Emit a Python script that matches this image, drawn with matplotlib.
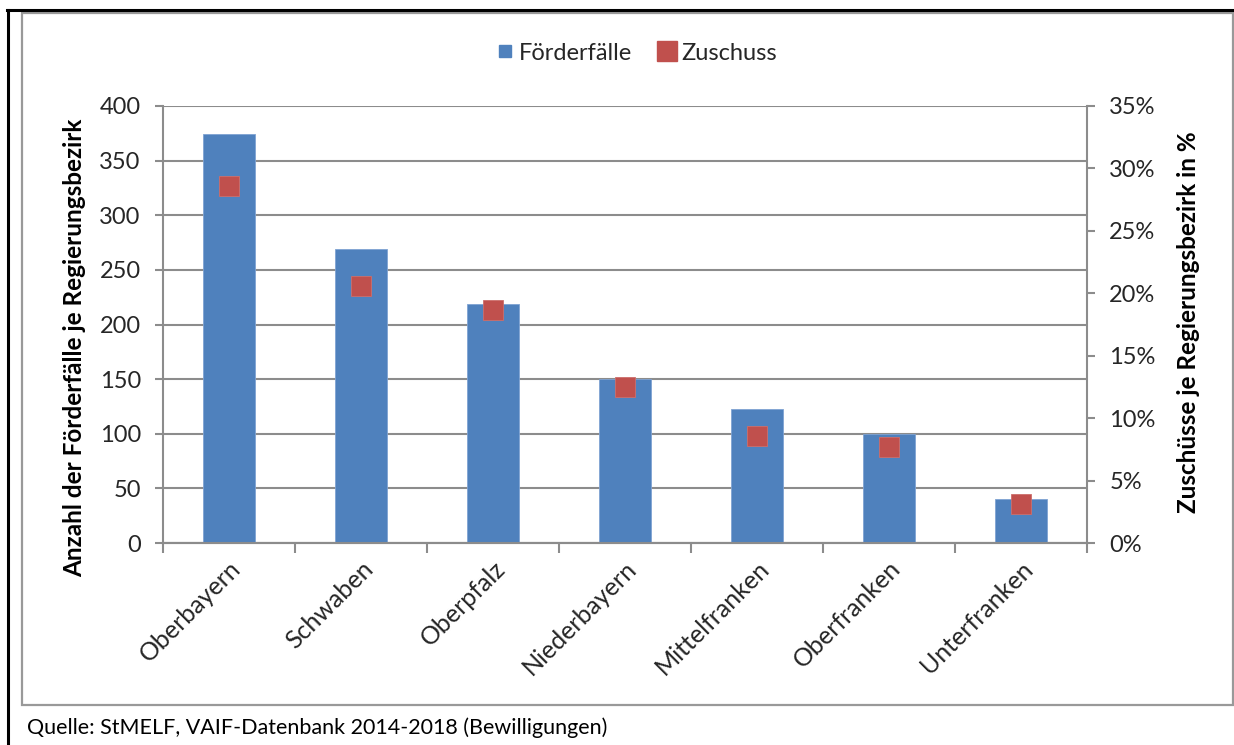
import matplotlib.pyplot as plt
from matplotlib.lines import Line2D
from matplotlib.patches import Rectangle
from matplotlib.ticker import FuncFormatter, MultipleLocator
import numpy as np

plt.rcParams['font.family'] = ['Lato', 'DejaVu Sans']

# Data
bezirke = ['Oberbayern', 'Schwaben', 'Oberpfalz', 'Niederbayern',
           'Mittelfranken', 'Oberfranken', 'Unterfranken']
foerderfaelle = [374, 269, 219, 150, 123, 100, 40]
zuschuss_pct = [28.6, 20.6, 18.7, 12.5, 8.6, 7.7, 3.1]

blue = '#4F81BD'
red = '#C0504D'
grid_gray = '#8C8C8C'
txt = '#262626'

fig = plt.figure(figsize=(12.34, 7.45), dpi=100)
ax = fig.add_axes([163 / 1234, 1 - 543 / 745, 924 / 1234, 437 / 745])

x = np.arange(len(bezirke))
ax.bar(x, foerderfaelle, width=0.4, color=blue, edgecolor='#7FA3D3',
       linewidth=0.6, zorder=3)
ax.set_xlim(-0.5, len(bezirke) - 0.5)
ax.set_ylim(0, 400)
ax.yaxis.set_major_locator(MultipleLocator(50))
ax.grid(axis='y', color=grid_gray, linewidth=1.5, zorder=0)
ax.set_axisbelow(True)

ax2 = ax.twinx()
ax2.plot(x, zuschuss_pct, linestyle='none', marker='s', markersize=15,
         markerfacecolor=red, markeredgecolor='#CD6E6B', markeredgewidth=0.6,
         zorder=4)
ax2.set_ylim(0, 35)
ax2.yaxis.set_major_locator(MultipleLocator(5))
ax2.yaxis.set_major_formatter(FuncFormatter(lambda v, p: f'{v:.0f}%'))

for a in (ax, ax2):
    a.spines['top'].set_visible(False)
    for s in ('left', 'right', 'bottom'):
        a.spines[s].set_color(grid_gray)
        a.spines[s].set_linewidth(1.5)
    a.tick_params(axis='y', colors=grid_gray, labelcolor=txt, labelsize=17,
                  length=6, width=1.5, pad=10)

ax.spines['right'].set_visible(False)
ax2.spines['left'].set_visible(False)

ax.set_xticks(x)
ax.set_xticklabels(bezirke, rotation=45, ha='right', rotation_mode='anchor',
                   fontsize=18, color=txt)
ax.tick_params(axis='x', length=0, pad=10)
ax.set_xticks(np.arange(-0.5, len(bezirke), 1.0), minor=True)
ax.tick_params(axis='x', which='minor', length=7, width=1.5, colors=grid_gray)

fig.text(75 / 1234, 1 - 348 / 745, 'Anzahl der Förderfälle je Regierungsbezirk',
         rotation=90, ha='center', va='center', fontsize=17.5,
         fontweight='bold', color='black')
fig.text(1188 / 1234, 1 - 322 / 745, 'Zuschüsse je Regierungsbezirk in %',
         rotation=90, ha='center', va='center', fontsize=17.5,
         fontweight='bold', color='black')

handles = [
    Line2D([], [], linestyle='none', marker='s', markersize=9,
           markerfacecolor=blue, markeredgecolor=blue),
    Line2D([], [], linestyle='none', marker='s', markersize=14,
           markerfacecolor=red, markeredgecolor=red),
]
fig.legend(handles, ['Förderfälle', 'Zuschuss'], loc='center',
           bbox_to_anchor=(635 / 1234, 1 - 53 / 745), ncol=2, frameon=False,
           fontsize=17, handletextpad=0.1, columnspacing=1.0,
           handlelength=1.0, labelcolor=txt)

# chart frame and page borders
fig.add_artist(Rectangle((22 / 1234, 1 - 705 / 745), 1211 / 1234, 692 / 745,
                         transform=fig.transFigure, fill=False,
                         edgecolor='#999999', linewidth=1.6))
fig.add_artist(Line2D([7 / 1234, 1], [1 - 10 / 745, 1 - 10 / 745],
                      transform=fig.transFigure, color='black', linewidth=2.2))
fig.add_artist(Line2D([8 / 1234, 8 / 1234], [0, 1 - 10 / 745],
                      transform=fig.transFigure, color='black', linewidth=2.2))

fig.text(27 / 1234, 1 - 728 / 745,
         'Quelle: StMELF, VAIF-Datenbank 2014-2018 (Bewilligungen)',
         ha='left', va='center', fontsize=15.5, color='black')

fig.savefig('out.png', dpi=100)
